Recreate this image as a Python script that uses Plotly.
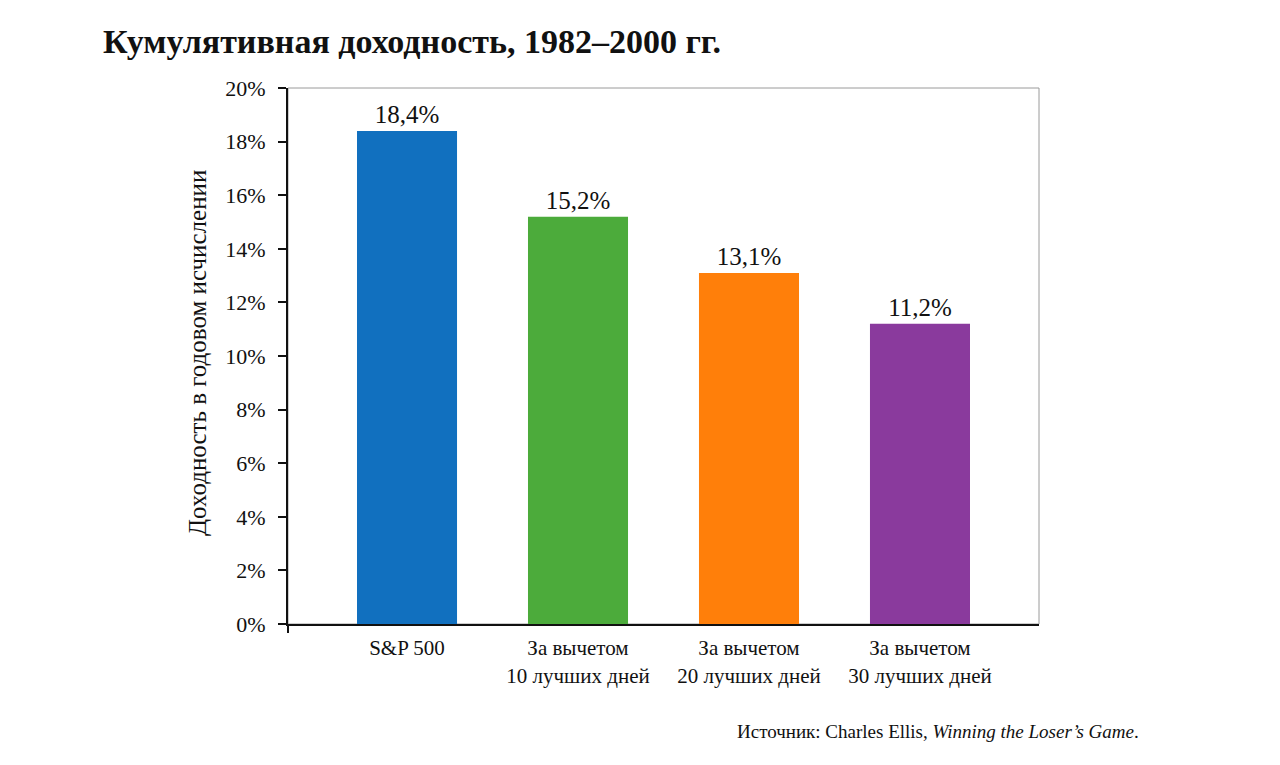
import plotly.graph_objects as go

categories = ["S&P 500", "За вычетом<br>10 лучших дней", "За вычетом<br>20 лучших дней", "За вычетом<br>30 лучших дней"]
values = [18.4, 15.2, 13.1, 11.2]
colors = ["#1170BF", "#4CAB3B", "#FF7F0A", "#8A3A9D"]
tick_vals = [0, 2, 4, 6, 8, 10, 12, 14, 16, 18, 20]
tick_text = [f"{v}%" for v in tick_vals]

labels = [f"{v:.1f}%".replace(".", ",") for v in values]
FONT = "Liberation Serif"

fig = go.Figure(go.Bar(
    x=list(range(len(categories))), y=values, marker_color=colors, marker_line_width=0,
    width=0.585, text=labels, textposition="outside", cliponaxis=False,
    textfont=dict(family=FONT, size=25, color="#111"),
))

W0, W1 = 288, 1039
fig.update_layout(
    width=1280, height=765,
    margin=dict(l=W0, r=1280 - W1, t=88, b=765 - 624, autoexpand=False),
    paper_bgcolor="white", plot_bgcolor="white",
    showlegend=False,
    title=dict(text="<b>Кумулятивная доходность, 1982–2000 гг.</b>",
               font=dict(family=FONT, size=34, color="#111"),
               xref="container", x=103 / 1280, xanchor="left",
               yref="container", y=1 - 41 / 765, yanchor="middle"),
    xaxis=dict(tickvals=list(range(len(categories))), ticktext=categories,
               range=[-0.696, 3.696], showline=True, linecolor="#111", linewidth=2,
               ticks="", showgrid=False, zeroline=False,
               tickfont=dict(family=FONT, size=21, color="#111"), ticklabelstandoff=4),
    yaxis=dict(range=[0, 20], tickvals=tick_vals, ticktext=tick_text,
               showline=True, linecolor="#111", linewidth=2,
               ticks="outside", ticklen=8, tickwidth=2, tickcolor="#111",
               showgrid=False, zeroline=False,
               tickfont=dict(family=FONT, size=22, color="#111"), ticklabelstandoff=8),
    shapes=[
        dict(type="rect", xref="paper", yref="paper", x0=0, y0=0, x1=1, y1=1,
             line=dict(color="#9a9a9a", width=1), layer="below"),
        dict(type="line", xref="paper", yref="paper", x0=0, x1=0,
             ysizemode="pixel", yanchor=0, y0=0, y1=-9,
             line=dict(color="#111", width=2)),
    ],
    annotations=[
        dict(text="Доходность в годовом исчислении", textangle=-90,
             xref="paper", yref="paper", x=(197 - W0) / (W1 - W0), y=(624 - 353) / 536,
             xanchor="center", yanchor="middle", showarrow=False,
             font=dict(family=FONT, size=25, color="#111")),
        dict(text="Источник: Charles Ellis, <i>Winning the Loser’s Game</i>.",
             xref="paper", yref="paper", x=(1141 - W0) / (W1 - W0), y=(624 - 731) / 536,
             xanchor="right", yanchor="middle", showarrow=False,
             font=dict(family=FONT, size=19, color="#111")),
    ],
)

fig.write_html("out.html")
